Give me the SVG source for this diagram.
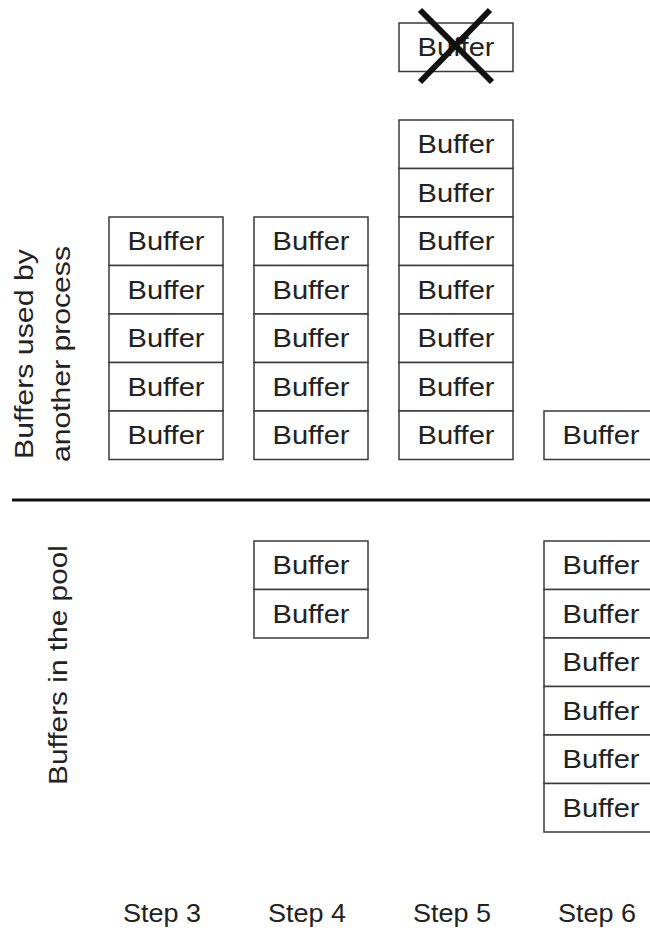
<svg xmlns="http://www.w3.org/2000/svg" width="650" height="931" viewBox="0 0 650 931">
<style>
.br{fill:#fff;stroke:#3a3a3a;stroke-width:1.5}
.bt{font-family:"Liberation Sans",Arial,sans-serif;font-size:26px;fill:#222;text-anchor:middle}
.lab{font-family:"Liberation Sans",Arial,sans-serif;font-size:25px;fill:#222;text-anchor:middle}
.step{font-family:"Liberation Sans",Arial,sans-serif;font-size:26px;fill:#222;text-anchor:middle}
</style>
<defs>
<g id="buf"><rect class="br" x="0" y="0" width="114" height="48.5" fill="#fff" stroke="#3a3a3a" stroke-width="1.5"/><text class="bt" x="57" y="33" textLength="77" lengthAdjust="spacingAndGlyphs" font-family="Liberation Sans, Arial, sans-serif" font-size="26" fill="#222" text-anchor="middle">Buffer</text></g>
</defs>
<rect width="650" height="931" fill="#fff"/>
<g id="labels">
<text class="lab" transform="translate(33,354) rotate(-90)" textLength="210" lengthAdjust="spacingAndGlyphs">Buffers used by</text>
<text class="lab" transform="translate(70,354) rotate(-90)" textLength="216" lengthAdjust="spacingAndGlyphs">another process</text>
<text class="lab" transform="translate(67,665) rotate(-90)" textLength="240" lengthAdjust="spacingAndGlyphs">Buffers in the pool</text>
</g>
<g id="divider"><line x1="12" y1="500" x2="650" y2="500" stroke="#111" stroke-width="3"/></g>
<g id="step3">
<use href="#buf" x="109" y="217"/><use href="#buf" x="109" y="265.5"/><use href="#buf" x="109" y="314"/><use href="#buf" x="109" y="362.5"/><use href="#buf" x="109" y="411"/>
</g>
<g id="step4">
<use href="#buf" x="254" y="217"/><use href="#buf" x="254" y="265.5"/><use href="#buf" x="254" y="314"/><use href="#buf" x="254" y="362.5"/><use href="#buf" x="254" y="411"/>
<use href="#buf" x="254" y="541"/><use href="#buf" x="254" y="589.5"/>
</g>
<g id="step5">
<use href="#buf" x="399" y="23"/>
<use href="#buf" x="399" y="120"/><use href="#buf" x="399" y="168.5"/><use href="#buf" x="399" y="217"/><use href="#buf" x="399" y="265.5"/><use href="#buf" x="399" y="314"/><use href="#buf" x="399" y="362.5"/><use href="#buf" x="399" y="411"/>
</g>
<g id="cross"><path d="M420 10 L492 82 M490 10 L420 82" stroke="#111" stroke-width="6" fill="none"/></g>
<g id="step6">
<use href="#buf" x="544" y="411"/>
<use href="#buf" x="544" y="541"/><use href="#buf" x="544" y="589.5"/><use href="#buf" x="544" y="638"/><use href="#buf" x="544" y="686.5"/><use href="#buf" x="544" y="735"/><use href="#buf" x="544" y="783.5"/>
</g>
<g id="steps">
<text class="step" x="162" y="922" textLength="78" lengthAdjust="spacingAndGlyphs">Step 3</text>
<text class="step" x="307" y="922" textLength="78" lengthAdjust="spacingAndGlyphs">Step 4</text>
<text class="step" x="452" y="922" textLength="78" lengthAdjust="spacingAndGlyphs">Step 5</text>
<text class="step" x="597" y="922" textLength="78" lengthAdjust="spacingAndGlyphs">Step 6</text>
</g>
</svg>
